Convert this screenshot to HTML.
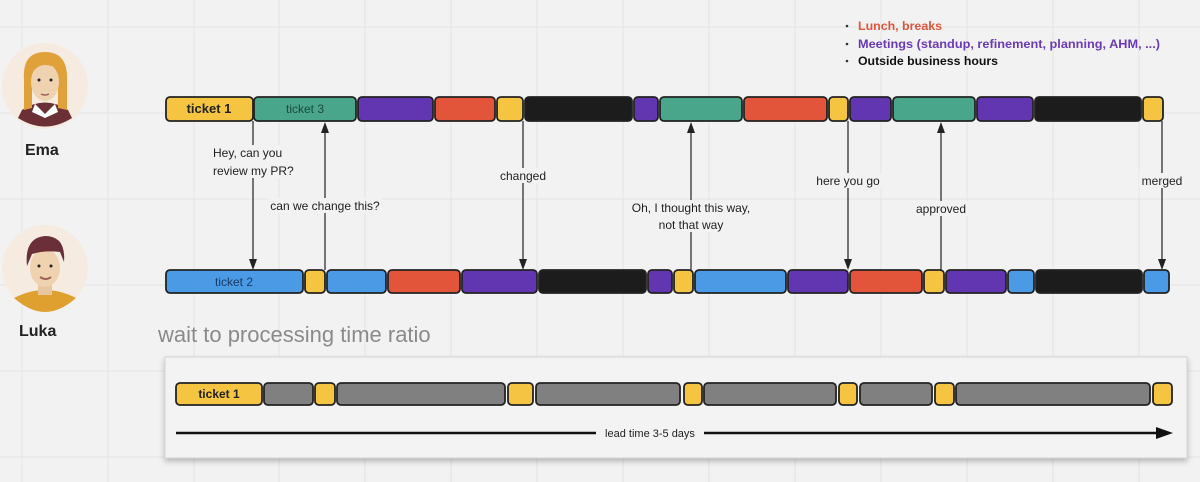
<!DOCTYPE html>
<html><head><meta charset="utf-8"><style>
html,body{margin:0;padding:0;background:#f2f2f2;}
svg{display:block;font-family:"Liberation Sans",sans-serif;}
</style></head><body>
<svg width="1200" height="482" viewBox="0 0 1200 482" xmlns="http://www.w3.org/2000/svg">
<defs>
<marker id="ah" markerWidth="10" markerHeight="12" refX="5" refY="12" orient="auto" markerUnits="userSpaceOnUse">
</marker>
<filter id="sh" x="-5%" y="-20%" width="110%" height="150%"><feDropShadow dx="0" dy="3" stdDeviation="3" flood-color="#000" flood-opacity="0.25"/></filter>
</defs>
<rect width="1200" height="482" fill="#f2f2f2"/>
<g stroke="#e4e4e4" stroke-width="1">
<line x1="22" y1="0" x2="22" y2="482"/><line x1="108" y1="0" x2="108" y2="482"/><line x1="194" y1="0" x2="194" y2="482"/><line x1="279" y1="0" x2="279" y2="482"/><line x1="365" y1="0" x2="365" y2="482"/><line x1="451" y1="0" x2="451" y2="482"/><line x1="537" y1="0" x2="537" y2="482"/><line x1="623" y1="0" x2="623" y2="482"/><line x1="709" y1="0" x2="709" y2="482"/><line x1="795" y1="0" x2="795" y2="482"/><line x1="881" y1="0" x2="881" y2="482"/><line x1="967" y1="0" x2="967" y2="482"/><line x1="1053" y1="0" x2="1053" y2="482"/><line x1="1139" y1="0" x2="1139" y2="482"/>
<line x1="0" y1="27" x2="1200" y2="27"/><line x1="0" y1="113" x2="1200" y2="113"/><line x1="0" y1="199" x2="1200" y2="199"/><line x1="0" y1="285" x2="1200" y2="285"/><line x1="0" y1="371" x2="1200" y2="371"/><line x1="0" y1="457" x2="1200" y2="457"/>
</g>

<!-- Ema avatar -->
<circle cx="45" cy="86" r="43" fill="#f5ebe0"/>
<path d="M22 110 Q45 95 68 110 L72 118 Q45 135 18 118 Z" fill="#6b2f36"/>
<path d="M35 104 L45 114 L55 104 L58 112 L45 118 L32 112 Z" fill="#fff"/>
<path d="M24 80 Q22 52 45 52 Q68 52 67 80 L67 110 L58 108 L58 80 L32 80 L32 108 L24 110 Z" fill="#e0a13a"/>
<ellipse cx="45" cy="82" rx="14" ry="19" fill="#efd2b0"/>
<path d="M31 75 Q40 58 60 70 L59 62 Q45 52 31 66 Z" fill="#e0a13a"/>
<circle cx="39" cy="80" r="1.5" fill="#222"/><circle cx="51" cy="80" r="1.5" fill="#222"/>
<path d="M41 94 Q45 96 49 94" stroke="#a0605a" stroke-width="1.5" fill="none"/>
<text x="25" y="155" font-size="16" font-weight="bold" fill="#222">Ema</text>

<!-- Luka avatar -->
<circle cx="45" cy="268" r="43" fill="#f5ebe0"/>
<path d="M14 298 Q45 282 76 298 Q60 312 45 312 Q30 312 14 298 Z" fill="#e0a030"/>
<rect x="38" y="285" width="14" height="10" fill="#e8c6a0"/>
<ellipse cx="45" cy="268" rx="15" ry="19" fill="#efd2b0"/>
<path d="M27 266 Q24 238 45 236 Q66 236 64 262 L60 252 Q45 250 32 254 Z" fill="#6a2f38"/>
<circle cx="39" cy="266" r="1.5" fill="#222"/><circle cx="51" cy="266" r="1.5" fill="#222"/>
<path d="M40 277 Q46 281 51 277" stroke="#a0605a" stroke-width="2" fill="none"/>
<text x="19" y="336" font-size="16" font-weight="bold" fill="#222">Luka</text>

<!-- Legend -->
<g font-size="12" font-weight="bold">
<circle cx="847" cy="26" r="1.3" fill="#333"/><text x="858" y="30" fill="#e0553a" textLength="84" lengthAdjust="spacingAndGlyphs">Lunch, breaks</text>
<circle cx="847" cy="44" r="1.3" fill="#333"/><text x="858" y="48" fill="#6a3ab8" textLength="302" lengthAdjust="spacingAndGlyphs">Meetings (standup, refinement, planning, AHM, ...)</text>
<circle cx="847" cy="61" r="1.3" fill="#333"/><text x="858" y="65" fill="#111" textLength="140" lengthAdjust="spacingAndGlyphs">Outside business hours</text>
</g>

<!-- Ema row -->
<g stroke="#222" stroke-width="1.8">
<rect x="166" y="97" width="87" height="24" rx="4" fill="#f5c542"/>
<rect x="254" y="97" width="102" height="24" rx="4" fill="#4aa68a"/>
<rect x="358" y="97" width="75" height="24" rx="4" fill="#6236b0"/>
<rect x="435" y="97" width="60" height="24" rx="4" fill="#e2553a"/>
<rect x="497" y="97" width="26" height="24" rx="4" fill="#f5c542"/>
<rect x="525" y="97" width="107" height="24" rx="4" fill="#1c1c1c"/>
<rect x="634" y="97" width="24" height="24" rx="4" fill="#6236b0"/>
<rect x="660" y="97" width="82" height="24" rx="4" fill="#4aa68a"/>
<rect x="744" y="97" width="83" height="24" rx="4" fill="#e2553a"/>
<rect x="829" y="97" width="19" height="24" rx="4" fill="#f5c542"/>
<rect x="850" y="97" width="41" height="24" rx="4" fill="#6236b0"/>
<rect x="893" y="97" width="82" height="24" rx="4" fill="#4aa68a"/>
<rect x="977" y="97" width="56" height="24" rx="4" fill="#6236b0"/>
<rect x="1035" y="97" width="106" height="24" rx="4" fill="#1c1c1c"/>
<rect x="1143" y="97" width="20" height="24" rx="4" fill="#f5c542"/>
</g>
<text x="209" y="113" font-size="13" font-weight="bold" fill="#222" text-anchor="middle">ticket 1</text>
<text x="305" y="113" font-size="12" fill="#1d4a3e" text-anchor="middle">ticket 3</text>

<!-- Luka row -->
<g stroke="#222" stroke-width="1.8">
<rect x="166" y="270" width="137" height="23" rx="4" fill="#4a9ae6"/>
<rect x="305" y="270" width="20" height="23" rx="4" fill="#f5c542"/>
<rect x="327" y="270" width="59" height="23" rx="4" fill="#4a9ae6"/>
<rect x="388" y="270" width="72" height="23" rx="4" fill="#e2553a"/>
<rect x="462" y="270" width="75" height="23" rx="4" fill="#6236b0"/>
<rect x="539" y="270" width="107" height="23" rx="4" fill="#1c1c1c"/>
<rect x="648" y="270" width="24" height="23" rx="4" fill="#6236b0"/>
<rect x="674" y="270" width="19" height="23" rx="4" fill="#f5c542"/>
<rect x="695" y="270" width="91" height="23" rx="4" fill="#4a9ae6"/>
<rect x="788" y="270" width="60" height="23" rx="4" fill="#6236b0"/>
<rect x="850" y="270" width="72" height="23" rx="4" fill="#e2553a"/>
<rect x="924" y="270" width="20" height="23" rx="4" fill="#f5c542"/>
<rect x="946" y="270" width="60" height="23" rx="4" fill="#6236b0"/>
<rect x="1008" y="270" width="26" height="23" rx="4" fill="#4a9ae6"/>
<rect x="1036" y="270" width="106" height="23" rx="4" fill="#1c1c1c"/>
<rect x="1144" y="270" width="25" height="23" rx="4" fill="#4a9ae6"/>
</g>
<text x="234" y="286" font-size="12" fill="#1a3c66" text-anchor="middle">ticket 2</text>

<!-- Arrows -->
<g stroke="#222" stroke-width="1.2">
<line x1="253" y1="121" x2="253" y2="262"/>
<line x1="325" y1="129" x2="325" y2="270"/>
<line x1="523" y1="121" x2="523" y2="262"/>
<line x1="691" y1="129" x2="691" y2="270"/>
<line x1="848" y1="121" x2="848" y2="262"/>
<line x1="941" y1="129" x2="941" y2="270"/>
<line x1="1162" y1="121" x2="1162" y2="262"/>
</g>
<g fill="#222">
<path d="M249 259 L257 259 L253 270 Z"/>
<path d="M321 133 L329 133 L325 122 Z"/>
<path d="M519 259 L527 259 L523 270 Z"/>
<path d="M687 133 L695 133 L691 122 Z"/>
<path d="M844 259 L852 259 L848 270 Z"/>
<path d="M937 133 L945 133 L941 122 Z"/>
<path d="M1158 259 L1166 259 L1162 270 Z"/>
</g>
<g font-size="12" fill="#222">
<rect x="211" y="145" width="76" height="33" fill="#f2f2f2"/>
<text x="213" y="157">Hey, can you</text>
<text x="213" y="175">review my PR?</text>
<rect x="268" y="198" width="114" height="15" fill="#f2f2f2"/>
<text x="325" y="210" text-anchor="middle">can we change this?</text>
<rect x="497" y="168" width="52" height="15" fill="#f2f2f2"/>
<text x="523" y="180" text-anchor="middle">changed</text>
<rect x="627" y="200" width="128" height="32" fill="#f2f2f2"/>
<text x="691" y="212" text-anchor="middle">Oh, I thought this way,</text>
<text x="691" y="229" text-anchor="middle">not that way</text>
<rect x="813" y="173" width="70" height="15" fill="#f2f2f2"/>
<text x="848" y="185" text-anchor="middle">here you go</text>
<rect x="912" y="201" width="58" height="15" fill="#f2f2f2"/>
<text x="941" y="213" text-anchor="middle">approved</text>
<rect x="1139" y="173" width="46" height="15" fill="#f2f2f2"/>
<text x="1162" y="185" text-anchor="middle">merged</text>
</g>

<!-- Bottom section -->
<text x="158" y="342" font-size="22" fill="#8a8a8a">wait to processing time ratio</text>
<rect x="165" y="357" width="1022" height="101" fill="#f3f3f3" stroke="#d6d6d6" stroke-width="1" filter="url(#sh)"/>
<g stroke="#222" stroke-width="1.8">
<rect x="176" y="383" width="86" height="22" rx="4" fill="#f5c542"/>
<rect x="264" y="383" width="49" height="22" rx="4" fill="#808080"/>
<rect x="315" y="383" width="20" height="22" rx="4" fill="#f5c542"/>
<rect x="337" y="383" width="168" height="22" rx="4" fill="#808080"/>
<rect x="508" y="383" width="25" height="22" rx="4" fill="#f5c542"/>
<rect x="536" y="383" width="144" height="22" rx="4" fill="#808080"/>
<rect x="684" y="383" width="18" height="22" rx="4" fill="#f5c542"/>
<rect x="704" y="383" width="132" height="22" rx="4" fill="#808080"/>
<rect x="839" y="383" width="18" height="22" rx="4" fill="#f5c542"/>
<rect x="860" y="383" width="72" height="22" rx="4" fill="#808080"/>
<rect x="935" y="383" width="19" height="22" rx="4" fill="#f5c542"/>
<rect x="956" y="383" width="194" height="22" rx="4" fill="#808080"/>
<rect x="1153" y="383" width="19" height="22" rx="4" fill="#f5c542"/>
</g>
<text x="219" y="398" font-size="12" font-weight="bold" fill="#222" text-anchor="middle">ticket 1</text>
<line x1="176" y1="433" x2="1160" y2="433" stroke="#111" stroke-width="2.5"/>
<path d="M1156 427 L1173 433 L1156 439 Z" fill="#111"/>
<rect x="596" y="426" width="108" height="14" fill="#f3f3f3"/>
<text x="650" y="437" font-size="11" fill="#222" text-anchor="middle">lead time 3-5 days</text>
</svg>
</body></html>
